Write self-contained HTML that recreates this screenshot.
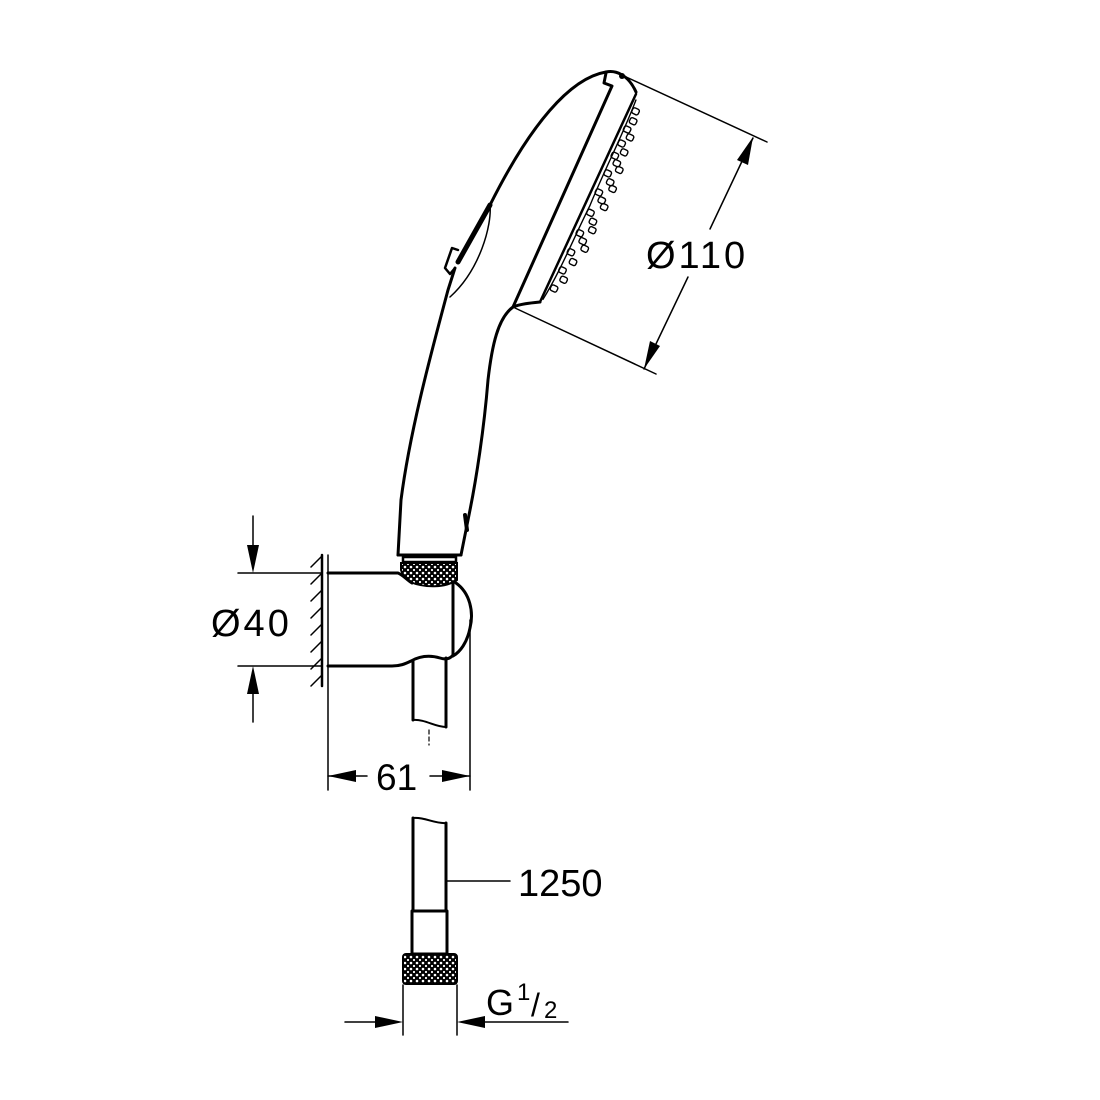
<!DOCTYPE html>
<html><head><meta charset="utf-8"><style>
html,body{margin:0;padding:0;background:#fff;}
svg{display:block;}
text{font-family:"Liberation Sans",Arial,sans-serif;fill:#000;}
</style></head><body>
<svg width="1100" height="1100" viewBox="0 0 1100 1100" xmlns="http://www.w3.org/2000/svg">
<defs>
<pattern id="kn" width="6" height="6" patternUnits="userSpaceOnUse">
<rect width="6" height="6" fill="#000"/>
<circle cx="3" cy="3" r="1.3" fill="#fff"/>
<circle cx="0" cy="0" r="1.1" fill="#fff"/><circle cx="6" cy="0" r="1.1" fill="#fff"/>
<circle cx="0" cy="6" r="1.1" fill="#fff"/><circle cx="6" cy="6" r="1.1" fill="#fff"/>
</pattern>
</defs>
<g fill="none" stroke="#000" stroke-linejoin="round" stroke-linecap="round">
<path d="M606,72 C570,78 530,125 490,205" stroke-width="3"/>
<path d="M490,205 L458,262" stroke-width="5"/>
<path d="M458,250 L452,248 L445,268 L450,274 L455,268" stroke-width="2.5"/>
<path d="M455,268 L448,290 C432,350 410,430 401,500 L398,555" stroke-width="3"/>
<path d="M490,205 C492,225 480,270 450,297" stroke-width="1.5"/>
<path d="M606,72 C615,70 628,74 636,92" stroke-width="3"/>
<path d="M606,73 L604,83 L612,86 L513,307" stroke-width="3"/>
<circle cx="622" cy="76" r="3" fill="#000" stroke="none"/>
<path d="M636,94 L540,302" stroke-width="2.5"/>
<path d="M540,302 C530,303 520,304 513,307 C498,318 492,345 488,380 C484,430 476,480 470,510 L461,555" stroke-width="3"/>
<path d="M465,515 L467,530" stroke-width="4"/>
<path d="M398,555 L461,555" stroke-width="3"/>
<path d="M624,76 L767,142" stroke-width="1.5"/>
<path d="M515,308 L656,374" stroke-width="1.5"/>
<path d="M753,138 L710,229" stroke-width="1.5"/>
<path d="M688,277 L644,369" stroke-width="1.5"/>
</g>
<polygon points="753,137 737,160 748,165" fill="#000"/>
<polygon points="644,369 650,341 660,346" fill="#000"/>
<text x="646" y="268" font-size="38" letter-spacing="3">Ø110</text>
<g transform="translate(636,95) rotate(25)" fill="none" stroke="#000" stroke-width="1.4">
<path d="M2,4 C5,40 3,80 5,120 C4,160 6,190 2,225"/>
<rect x="3" y="12" width="7" height="6" rx="2"/><rect x="5" y="22" width="7" height="6" rx="2"/>
<rect x="3" y="32" width="7" height="6" rx="2"/><rect x="9" y="38" width="7" height="6" rx="2"/>
<rect x="4" y="47" width="7" height="6" rx="2"/><rect x="10" y="54" width="7" height="6" rx="2"/>
<rect x="3" y="61" width="7" height="6" rx="2"/><rect x="8" y="67" width="7" height="6" rx="2"/>
<rect x="13" y="72" width="7" height="6" rx="2"/><rect x="4" y="80" width="7" height="6" rx="2"/>
<rect x="10" y="87" width="7" height="6" rx="2"/><rect x="15" y="92" width="7" height="6" rx="2"/>
<rect x="4" y="101" width="7" height="6" rx="2"/><rect x="10" y="107" width="7" height="6" rx="2"/>
<rect x="15" y="112" width="7" height="6" rx="2"/><rect x="5" y="123" width="7" height="6" rx="2"/>
<rect x="11" y="130" width="7" height="6" rx="2"/><rect x="14" y="138" width="7" height="6" rx="2"/>
<rect x="4" y="146" width="7" height="6" rx="2"/><rect x="10" y="152" width="7" height="6" rx="2"/>
<rect x="15" y="158" width="7" height="6" rx="2"/><rect x="4" y="167" width="7" height="6" rx="2"/>
<rect x="10" y="175" width="7" height="6" rx="2"/><rect x="4" y="187" width="7" height="6" rx="2"/>
<rect x="9" y="195" width="7" height="6" rx="2"/><rect x="4" y="207" width="7" height="6" rx="2"/>
</g>
<rect x="403" y="557" width="53" height="5" fill="#fff" stroke="#000" stroke-width="2.5"/>
<path d="M401,563 L457,563 L457,580 C445,588 425,588 410,582 C405,578 402,574 401,570 Z" fill="url(#kn)" stroke="#000" stroke-width="2"/>
<g fill="none" stroke="#000" stroke-linecap="round" stroke-linejoin="round">
<path d="M328,573 L398,573 C403,575 407,580 412,583" stroke-width="3"/>
<path d="M453,582 L453,655 C450,659 446,660 440,658 C430,655 420,656 411,661 C405,664 400,666 392,666 L328,666" stroke-width="3"/>
<path d="M456,583 C470,593 474,612 470,628 C467,643 460,652 453,656" stroke-width="3"/>
<path d="M413,661 L413,720" stroke-width="3"/>
<path d="M446,658 L446,727" stroke-width="3"/>
<path d="M413,720 C425,719 435,727 446,727" stroke-width="2"/>
<path d="M429,730 L429,745" stroke-width="1.2" stroke-dasharray="4,3"/>
<path d="M322,555 L322,686" stroke-width="2.5"/>
<path d="M328,555 L328,790" stroke-width="1.5"/>
<path d="M470,620 L470,790" stroke-width="1.5"/>
<path d="M311,567 L322,556 M311,584 L322,573 M311,601 L322,590 M311,618 L322,607 M311,635 L322,624 M311,652 L322,641 M311,669 L322,658 M311,686 L322,675" stroke-width="1.5"/>
<path d="M238,573 L322,573 M238,666 L322,666" stroke-width="1.5"/>
<path d="M253,516 L253,560 M253,680 L253,722" stroke-width="1.5"/>
<path d="M328,776 L367,776 M430,776 L470,776" stroke-width="1.5"/>
</g>
<polygon points="253,573 247,545 259,545" fill="#000"/>
<polygon points="253,666 247,694 259,694" fill="#000"/>
<polygon points="328,776 356,770 356,782" fill="#000"/>
<polygon points="470,776 442,770 442,782" fill="#000"/>
<text x="211" y="636" font-size="38" letter-spacing="3">Ø40</text>
<text x="376" y="790" font-size="37">61</text>
<g fill="none" stroke="#000" stroke-linecap="round" stroke-linejoin="round">
<path d="M413,818 L413,911 M446,823 L446,911" stroke-width="3"/>
<path d="M413,818 C425,817 435,824 446,823" stroke-width="2"/>
<rect x="412" y="911" width="35" height="43" stroke-width="3" fill="#fff"/>
<path d="M447,881 L510,881" stroke-width="1.5"/>
<path d="M403,985 L403,1035 M457,985 L457,1035" stroke-width="1.5"/>
<path d="M345,1022 L375,1022 M485,1022 L568,1022" stroke-width="1.5"/>
</g>
<rect x="403" y="954" width="54" height="30" rx="3" fill="url(#kn)" stroke="#000" stroke-width="2"/>
<polygon points="403,1022 375,1016 375,1028" fill="#000"/>
<polygon points="457,1022 485,1016 485,1028" fill="#000"/>
<text x="518" y="896" font-size="38">1250</text>
<text x="486" y="1015" font-size="36">G</text>
<text x="517" y="1000" font-size="24">1</text>
<text x="531" y="1016" font-size="32">/</text>
<text x="544" y="1018" font-size="24">2</text>
</svg>
</body></html>
